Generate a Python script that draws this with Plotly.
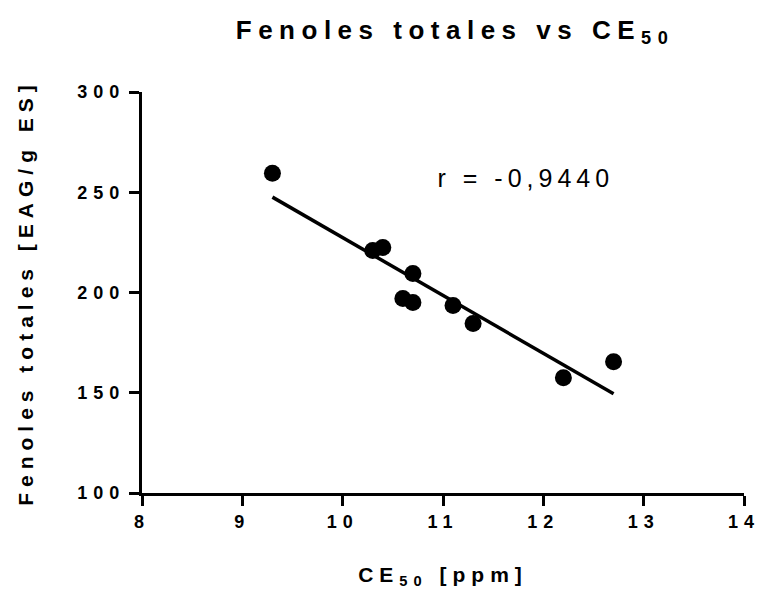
import numpy as np
import plotly.graph_objects as go

# Data
ce50 = [9.3, 10.3, 10.4, 10.6, 10.7, 10.7, 11.1, 11.3, 12.2, 12.7]
fenoles = [259.5, 221.0, 222.5, 197.0, 209.5, 195.0, 193.5, 184.5, 157.5, 165.5]
x_ticks = [8, 9, 10, 11, 12, 13, 14]
y_ticks = [100, 150, 200, 250, 300]
r_label = "r = -0,9440"

slope, intercept = np.polyfit(ce50, fenoles, 1)
fit_x = [min(ce50), max(ce50)]
fit_y = [slope * v + intercept for v in fit_x]

FONT = "Liberation Sans, Arial, sans-serif"

fig = go.Figure()
fig.add_trace(go.Scatter(x=fit_x, y=fit_y, mode="lines",
                         line=dict(color="black", width=3.5), showlegend=False,
                         hoverinfo="skip"))
fig.add_trace(go.Scatter(x=ce50, y=fenoles, mode="markers",
                         marker=dict(color="black", size=17), showlegend=False))

fig.add_annotation(x=11.2, y=257, xref="x", yref="y", text=r_label,
                   showarrow=False, xanchor="left", yanchor="middle",
                   font=dict(family=FONT, size=25, color="black"))

fig.update_layout(
    width=760, height=589,
    margin=dict(l=142, r=16, t=92, b=96),
    paper_bgcolor="white", plot_bgcolor="white",
    font=dict(family=FONT, color="black"),
    title=dict(text="<b>Fenoles totales vs CE<sub>50</sub></b>",
               x=0.52, xref="paper", xanchor="center",
               y=0.95, yref="container", yanchor="middle",
               font=dict(family=FONT, size=26, color="black")),
    xaxis=dict(range=[8, 14], tickvals=x_ticks,
               ticktext=["<b>%d</b>" % v for v in x_ticks],
               showline=True, linecolor="black", linewidth=3,
               ticks="outside", ticklen=10, tickwidth=3, tickcolor="black",
               showgrid=False, zeroline=False, automargin=False,
               tickfont=dict(family=FONT, size=18, color="black", weight=700),
               title=dict(text="<b>CE<sub>50</sub> [ppm]</b>", standoff=38,
                          font=dict(family=FONT, size=21, color="black"))),
    yaxis=dict(range=[100, 300], tickvals=y_ticks,
               ticktext=["<b>%d</b>" % v for v in y_ticks],
               showline=True, linecolor="black", linewidth=3,
               ticks="outside", ticklen=10, tickwidth=3, tickcolor="black",
               showgrid=False, zeroline=False, automargin=False,
               tickfont=dict(family=FONT, size=18, color="black", weight=700),
               title=dict(text="<b>Fenoles totales [EAG/g ES]</b>", standoff=57,
                          font=dict(family=FONT, size=21, color="black"))),
)

css = (".gtitle{letter-spacing:6.5px}"
       " .xtitle,.ytitle{letter-spacing:6px}"
       " .xtick text,.ytick text{letter-spacing:6px;font-weight:bold !important}"
       " .annotation-text{letter-spacing:5px}")
post = ("var st=document.createElement('style');st.textContent='" + css +
        "';document.head.appendChild(st);")

fig.write_html("out.html", post_script=post)
